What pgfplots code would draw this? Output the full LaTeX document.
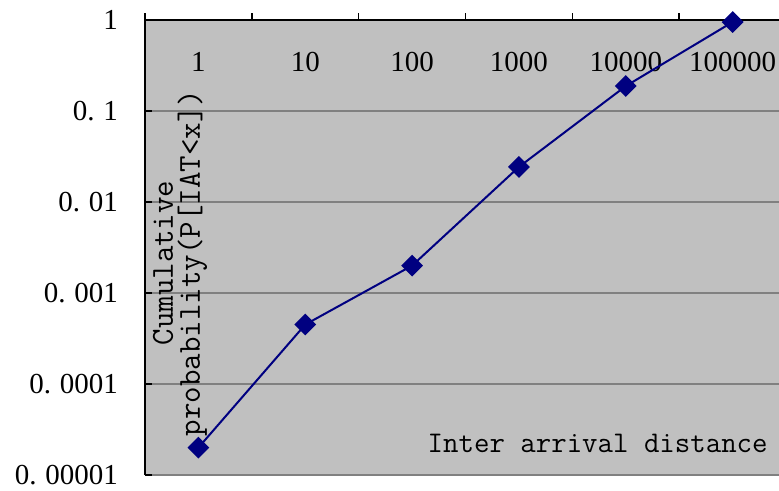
\documentclass[border=0pt]{standalone}
\usepackage{pgfplots}
\pgfplotsset{compat=1.18}
\usepackage{fontspec}
\setmainfont{Liberation Serif}
\definecolor{plotbg}{HTML}{C0C0C0}
\definecolor{gridgray}{HTML}{808080}
\definecolor{navyline}{HTML}{000080}
\begin{document}
\begin{tikzpicture}
\begin{axis}[
  at={(145pt,15pt)}, anchor=south west,
  scale only axis, width=634pt, height=455pt,
  ymode=log, ymin=1e-5, ymax=1,
  xmin=-0.5, xmax=5.434,
  axis x line*=top, axis y line*=left,
  axis line style={black, line width=2pt},
  axis background/.style={fill=plotbg},
  xtick={0,1,2,3,4,5},
  xticklabels={1,10,100,1000,10000,100000},
  major x tick style={draw=none},
  minor xtick={-0.5,0.5,1.5,2.5,3.5,4.5},
  minor x tick style={black, line width=1.5pt, yshift=7pt},
  minor tick length=7pt,
  ytick={1e-5,1e-4,1e-3,1e-2,1e-1,1},
  yticklabels={0.\kern0.3em00001,0.\kern0.3em0001,0.\kern0.3em001,0.\kern0.3em01,0.\kern0.3em1,1},
  yminorticks=false,
  tick align=inside,
  major tick length=7pt,
  y tick style={black, line width=1.5pt},
  ymajorgrids, major grid style={gridgray, line width=1.5pt},
  xticklabel style={anchor=center, yshift=-42pt, font=\fontsize{29}{34}\selectfont},
  yticklabel style={anchor=east, inner sep=0pt, xshift=-27pt, font=\fontsize{29}{34}\selectfont},
  /pgf/number format/assume math mode=true,
  clip=false,
]
\addplot[navyline, line width=2pt, mark=square*, mark size=6.7pt, mark options={rotate=45, fill=navyline}]
  coordinates {(0,2.0e-5) (1,4.5e-4) (2,2.0e-3) (3,0.0243) (4,0.188) (5,0.95)};
\node[rotate=90, align=center, font=\ttfamily\fontsize{32}{27}\selectfont] at (rel axis cs:0.0552,0.466) {Cumulative\\probability(P[IAT<x])};
\node[font=\ttfamily\fontsize{30}{30}\selectfont] at (rel axis cs:0.714,0.070) {Inter arrival distance};
\end{axis}
\pgfresetboundingbox
\useasboundingbox (0,0) rectangle (779pt,490pt);
\end{tikzpicture}
\end{document}
